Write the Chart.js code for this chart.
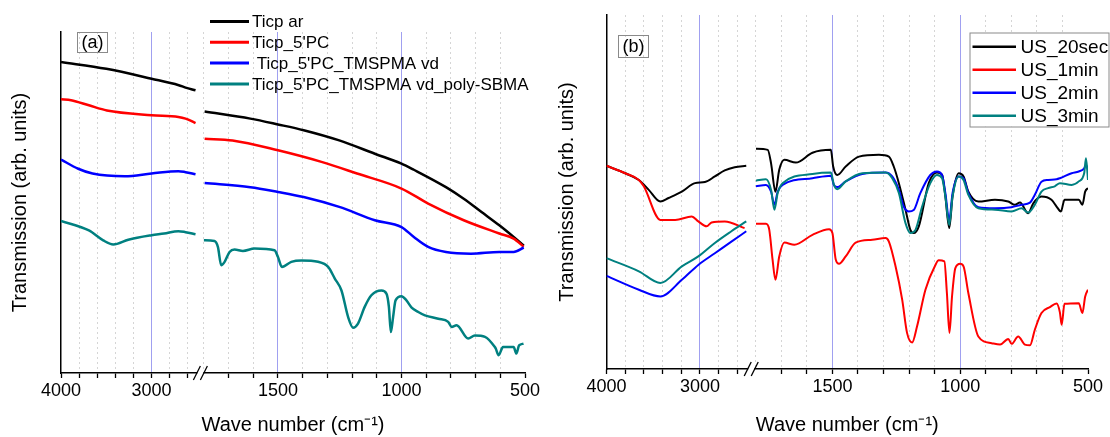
<!DOCTYPE html>
<html lang="en">
<head>
<meta charset="UTF-8">
<title>FTIR spectra (a) / (b)</title>
<script src="https://cdn.jsdelivr.net/npm/chart.js@4.4.1/dist/chart.umd.min.js"></script>
<style>
  body { margin: 0; background: #fff; }
  .panel { position: absolute; top: 0; width: 555px; height: 437px; }
</style>
</head>
<body>
<div class="panel" style="left:0"><canvas id="chartA"></canvas></div>
<div class="panel" style="left:555px"><canvas id="chartB"></canvas></div>
<script>
// wave numbers (cm-1) and transmission (arb. units, 0-100 of the plot height)
const aTicpAr = [[4000,91.2],[3500,89.2],[3000,86.3],[2700,84.4],[2625,83.7],[2515,82.9],
  [1797,76.7],[1612,74.6],[1500,72.9],[1396,71.2],[1252,68.2],[1108,64.3],[1000,61.4],[950,59.6],
  [820,54.5],[748,51.1],[676,47.2],[604,43.3],[546,39.9],[505,37.4]];
const aTicp5PC = [[4000,80.3],[3889,80.0],[3692,78.5],[3494,77.0],[3000,75.6],[2704,75.1],[2625,74.6],[2515,73.3],
  [1797,68.7],[1684,68.2],[1500,65.3],[1324,61.9],[1180,58.5],[1000,54.1],[892,49.7],[748,44.8],
  [604,40.9],[546,39.4],[505,37.0]];
const aTmspma = [[4000,62.6],[3810,59.9],[3652,58.5],[3296,57.7],[3000,58.5],[2704,59.2],[2625,58.9],[2515,58.3],
  [1797,55.7],[1612,54.5],[1500,53.1],[1396,51.6],[1252,48.7],[1108,44.8],[1000,42.8],[950,39.9],
  [892,37.0],[820,35.5],[719,35.0],[604,35.5],[546,35.5],[505,36.8]];
const aSbma = [[4000,44.6],[3692,41.8],[3534,38.9],[3423,37.7],[3257,39.1],[3000,40.4],[2862,40.9],[2704,41.6],[2625,41.3],[2515,40.7],
  [1800,38.9],[1757,38.7],[1743,36.9],[1730,31.6],[1716,32.6],[1696,35.5],[1676,36.2],[1642,35.8],[1595,36.5],
  [1514,36.0],[1500,34.0],[1484,31.1],[1446,32.6],[1405,33.0],[1338,32.6],[1297,31.1],[1270,27.7],[1243,24.2],
  [1216,16.4],[1196,13.3],[1176,14.5],[1149,19.4],[1122,22.8],[1081,24.2],[1061,23.3],[1051,19.4],[1043,12.0],
  [1034,16.4],[1024,21.3],[1000,22.5],[980,21.3],[959,19.2],[932,17.9],[905,16.9],[851,15.9],[811,15.0],
  [797,13.5],[777,14.0],[730,10.1],[703,11.0],[662,10.6],[622,7.6],[618,7.1],[607,5.2],[589,7.6],[546,7.6],
  [535,5.7],[524,8.1],[506,8.6]];

const bUs20s = [[4000,57.4],[3800,55.3],[3654,53.4],[3548,50.6],[3424,47.3],[3336,48.3],[3194,50.1],[3053,52.5],
  [2947,52.8],[2841,54.4],[2735,56.1],[2629,57.0],[2505,57.4],
  [1799,62.2],[1753,61.9],[1740,58.1],[1723,50.1],[1708,56.3],[1688,59.1],[1643,58.3],[1578,61.1],[1506,61.9],
  [1497,57.2],[1481,54.8],[1448,57.2],[1396,60.0],[1318,60.5],[1279,60.0],[1260,57.2],[1240,52.5],[1214,45.0],
  [1195,39.3],[1182,38.4],[1162,40.3],[1123,52.5],[1091,55.5],[1071,54.9],[1058,48.7],[1043,39.8],[1030,48.7],
  [1006,55.3],[987,54.4],[968,50.1],[929,47.3],[864,47.8],[812,47.3],[786,46.4],[766,47.0],[734,44.0],[714,46.8],
  [682,48.7],[643,47.8],[623,45.9],[606,44.5],[592,47.8],[536,47.8],[522,46.4],[511,50.1],[500,51.1]];
const bUs1m = [[4000,57.4],[3800,55.3],[3654,53.4],[3601,51.6],[3424,42.1],[3265,42.1],[3088,43.1],[3018,41.7],
  [2929,40.3],[2876,41.4],[2735,41.7],[2523,39.8],
  [1799,41.0],[1760,41.0],[1747,39.3],[1734,30.8],[1723,25.2],[1708,31.8],[1688,35.7],[1649,35.1],[1578,37.9],
  [1513,39.5],[1500,38.4],[1487,30.9],[1474,29.7],[1448,31.8],[1409,35.7],[1344,36.5],[1292,37.0],[1279,36.0],
  [1253,29.0],[1227,19.6],[1208,10.2],[1188,7.5],[1169,12.0],[1136,22.4],[1097,29.4],[1084,30.7],[1062,30.4],
  [1052,21.4],[1042,10.2],[1032,20.5],[1019,28.5],[1000,29.7],[987,29.0],[968,21.4],[929,9.2],[877,7.3],
  [844,6.9],[812,8.5],[799,7.1],[773,9.2],[747,6.9],[727,6.7],[708,11.1],[682,15.8],[649,17.5],[623,18.5],
  [610,16.0],[603,12.5],[592,18.4],[536,18.6],[522,15.8],[511,20.5],[500,22.4]];
const bUs2m = [[4000,26.3],[3654,22.4],[3424,20.5],[3194,25.2],[3018,29.4],[2841,32.7],[2664,36.0],[2505,38.9],
  [1799,51.6],[1760,52.0],[1740,50.1],[1727,46.4],[1714,50.1],[1695,52.0],[1578,53.9],[1506,54.6],[1494,52.0],
  [1481,51.4],[1448,53.0],[1383,55.1],[1292,55.5],[1266,54.4],[1240,50.6],[1221,45.9],[1201,44.5],[1182,44.9],
  [1156,49.7],[1117,54.8],[1091,55.8],[1071,54.8],[1058,49.7],[1043,42.1],[1030,49.7],[1006,54.4],[987,53.9],
  [968,49.7],[929,45.7],[864,45.4],[799,45.7],[760,46.4],[727,47.0],[708,49.2],[682,52.9],[656,53.4],[623,53.6],
  [610,53.9],[564,55.3],[536,55.8],[515,56.7],[508,57.7],[500,56.3]];
const bUs3m = [[4000,31.3],[3654,27.6],[3424,24.3],[3194,29.0],[3018,31.8],[2841,35.6],[2664,38.9],[2505,41.7],
  [1799,53.2],[1760,53.6],[1740,50.6],[1727,45.0],[1714,49.7],[1695,52.5],[1578,55.1],[1506,55.5],[1494,52.0],
  [1481,50.8],[1448,53.0],[1383,55.3],[1292,55.5],[1266,53.9],[1240,49.7],[1214,41.2],[1195,38.4],[1175,39.3],
  [1149,45.9],[1117,52.5],[1091,54.8],[1071,53.9],[1058,48.7],[1043,40.7],[1030,48.7],[1006,54.4],[987,53.4],
  [968,49.2],[929,45.4],[864,45.0],[799,44.5],[760,45.4],[734,44.2],[708,46.4],[682,50.1],[656,51.1],[630,51.6],
  [610,52.5],[564,52.0],[536,53.0],[515,55.3],[508,59.5],[500,53.4]];

// axis ticks (cm-1)
const tickWaves = [4000,3800,3600,3400,3200,3000,2800,2600,1700,1600,1500,1400,1300,1200,1100,1000,900,800,700,600,500];
const labelWaves = [4000,3000,1500,1000,500];
const blueWaves = [3000,1500,1000];
const gridWaves = [3800,3600,3400,3200,2800,2600,1800,1700,1600,1400,1300,1200,1100,900,800,700,600];

const FONT = '"Liberation Sans", Arial, sans-serif';
const BLUE_LINE = '#a0a0f0';
Chart.defaults.font.family = FONT;
Chart.defaults.color = '#000';

const panels = [
  {
    canvas: 'chartA',
    area: { left: 61, right: 525, top: 32, bottom: 373 },
    seg: { l1: 136, gap: 7, l2: 321.4 },
    yTitlePad: 8,
    lineWidth: 2.5,
    series: [
      { label: 'Ticp ar', color: '#000000', data: aTicpAr },
      { label: "Ticp_5'PC", color: '#ff0000', data: aTicp5PC },
      { label: " Ticp_5'PC_TMSPMA vd", color: '#0000ff', data: aTmspma },
      { label: "Ticp_5'PC_TMSPMA vd_poly-SBMA", color: '#008080', data: aSbma }
    ],
    tag: { text: '(a)', x: 77, y: 32, w: 30, h: 20 },
    legend: { x: 210, y: 21.5, len: 39, gap: 3, row: 20.8, size: 17, width: 3, box: null }
  },
  {
    canvas: 'chartB',
    area: { left: 51.5, right: 533, top: 15, bottom: 369 },
    seg: { l1: 140.2, gap: 9, l2: 332.2 },
    yTitlePad: 0,
    lineWidth: 2,
    series: [
      { label: 'US_20sec', color: '#000000', data: bUs20s },
      { label: 'US_1min', color: '#ff0000', data: bUs1m },
      { label: 'US_2min', color: '#0000ff', data: bUs2m },
      { label: 'US_3min', color: '#008080', data: bUs3m }
    ],
    tag: { text: '(b)', x: 63, y: 35, w: 30, h: 22 },
    legend: { x: 417.5, y: 46.7, len: 43.5, gap: 4.5, row: 23, size: 19, width: 2.5,
      box: { x: 414.5, y: 32.5, w: 139, h: 94 } }
  }
];

// tag box, legend and the axis break
const decor = {
  id: 'decor',
  afterDraw(chart, args, opts) {
    const ctx = chart.ctx;
    ctx.save();
    const t = opts.tag;
    ctx.strokeStyle = '#8a8a8a';
    ctx.lineWidth = 1;
    ctx.strokeRect(t.x + 0.5, t.y + 0.5, t.w, t.h);
    ctx.fillStyle = '#000';
    ctx.font = '18px ' + FONT;
    ctx.textAlign = 'center';
    ctx.textBaseline = 'middle';
    ctx.fillText(t.text, t.x + t.w / 2 + 0.5, t.y + t.h / 2 + 1);

    const lg = opts.legend;
    if (lg.box) {
      ctx.fillStyle = '#fff';
      ctx.fillRect(lg.box.x, lg.box.y, lg.box.w, lg.box.h);
      ctx.strokeStyle = '#8a8a8a';
      ctx.strokeRect(lg.box.x + 0.5, lg.box.y + 0.5, lg.box.w, lg.box.h);
    }
    ctx.font = lg.size + 'px ' + FONT;
    ctx.textAlign = 'left';
    chart.data.datasets.forEach((ds, i) => {
      const y = lg.y + i * lg.row;
      ctx.strokeStyle = ds.borderColor;
      ctx.lineWidth = lg.width;
      ctx.beginPath();
      ctx.moveTo(lg.x, y);
      ctx.lineTo(lg.x + lg.len, y);
      ctx.stroke();
      ctx.fillStyle = '#000';
      ctx.fillText(ds.label, lg.x + lg.len + lg.gap, y + 1);
    });

    // "//" on the x axis between the two segments
    const xs = chart.scales.x;
    const mid = xs.getPixelForValue(opts.breakAt);
    const y0 = chart.chartArea.bottom;
    ctx.fillStyle = '#fff';
    ctx.fillRect(mid - 3, y0 - 2, 6, 4);
    ctx.strokeStyle = '#000';
    ctx.lineWidth = 1.3;
    [-3.5, 3.5].forEach(dx => {
      ctx.beginPath();
      ctx.moveTo(mid + dx - 3.5, y0 + 7);
      ctx.lineTo(mid + dx + 3.5, y0 - 7);
      ctx.stroke();
    });
    ctx.restore();
  }
};

panels.forEach(p => {
  const total = p.seg.l1 + p.seg.gap + p.seg.l2;
  const toX = w => w >= 2500
    ? (4000 - w) / 1500 * p.seg.l1
    : p.seg.l1 + p.seg.gap + (1800 - w) / 1300 * p.seg.l2;
  const breakAt = p.seg.l1 + p.seg.gap / 2;

  const datasets = p.series.map((s, i) => {
    const pts = [];
    s.data.forEach(([w, v], k) => {
      if (k > 0 && s.data[k - 1][0] >= 2500 && w < 2500) pts.push({ x: breakAt, y: null });
      pts.push({ x: toX(w), y: v });
    });
    return {
      label: s.label,
      data: pts,
      borderColor: s.color,
      backgroundColor: s.color,
      borderWidth: p.lineWidth,
      pointRadius: 0,
      cubicInterpolationMode: 'monotone',
      spanGaps: false,
      order: p.series.length - i
    };
  });

  new Chart(document.getElementById(p.canvas), {
    type: 'line',
    data: { datasets },
    options: {
      responsive: true,
      maintainAspectRatio: false,
      animation: false,
      layout: { padding: { left: 0, right: 555 - p.area.right, top: p.area.top, bottom: 0 } },
      plugins: {
        legend: { display: false },
        tooltip: { enabled: false },
        decor: { tag: p.tag, legend: p.legend, breakAt }
      },
      scales: {
        x: {
          type: 'linear', position: 'bottom', min: 0, max: total,
          afterBuildTicks: sc => { sc.ticks = tickWaves.map(w => ({ value: toX(w) })); },
          afterFit: sc => { sc.height = 437 - p.area.bottom; },
          ticks: {
            autoSkip: false, maxRotation: 0, color: '#000', font: { size: 18 }, padding: 2,
            callback: (v, i) => labelWaves.includes(tickWaves[i]) ? String(tickWaves[i]) : ''
          },
          grid: {
            color: c => blueWaves.includes(tickWaves[c.index]) ? BLUE_LINE : 'transparent',
            lineWidth: 1, tickColor: '#000', tickLength: 5, tickWidth: 1.3
          },
          border: { color: '#000', width: 1.5 },
          title: { display: true, text: 'Wave number (cm\u207B\u00B9)', color: '#000', font: { size: 20 }, padding: { top: 0, bottom: 0 } }
        },
        xg: {
          type: 'linear', position: 'top', min: 0, max: total,
          afterBuildTicks: sc => { sc.ticks = gridWaves.map(w => ({ value: toX(w) })); },
          afterFit: sc => { sc.height = 0; },
          ticks: { display: false },
          grid: { color: 'rgba(150,150,150,0.4)', lineWidth: 1, drawTicks: false },
          border: { display: false, dash: [2, 3] }
        },
        y: {
          min: 0, max: 100,
          ticks: { display: false },
          grid: { display: false },
          border: { color: '#000', width: 1.5 },
          afterFit: sc => { sc.width = p.area.left; },
          title: { display: true, text: 'Transmission (arb. units)', color: '#000', font: { size: 20 }, padding: p.yTitlePad }
        }
      }
    },
    plugins: [decor]
  });
});
</script>
</body>
</html>
